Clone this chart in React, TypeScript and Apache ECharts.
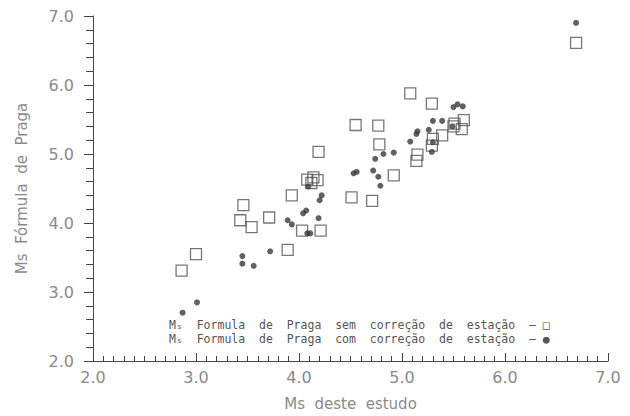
import React, { useEffect, useRef } from "react";
import * as echarts from "echarts";

const xTicks = [2, 3, 4, 5, 6, 7];
const yTicks = [2, 3, 4, 5, 6, 7];

// Ms Fórmula de Praga sem correção de estação (open squares)
const semX = [2.86, 3.0, 3.46, 3.43, 3.54, 3.71, 3.89, 3.93, 4.03, 4.21, 4.08, 4.12, 4.14, 4.18, 4.19, 4.51, 4.55, 4.71, 4.77, 4.78, 4.92, 5.08, 5.14, 5.15, 5.29, 5.29, 5.3, 5.39, 5.5, 5.51, 5.58, 5.6, 6.69];
const semY = [3.31, 3.55, 4.26, 4.04, 3.94, 4.08, 3.61, 4.4, 3.89, 3.89, 4.63, 4.58, 4.66, 4.62, 5.03, 4.37, 5.42, 4.32, 5.41, 5.14, 4.69, 5.88, 4.9, 4.99, 5.73, 5.12, 5.22, 5.27, 5.4, 5.44, 5.36, 5.49, 6.61];

// Ms Fórmula de Praga com correção de estação (filled dots)
const comX = [2.87, 3.01, 3.45, 3.45, 3.56, 3.72, 3.89, 3.93, 4.04, 4.07, 4.08, 4.11, 4.19, 4.22, 4.2, 4.09, 4.53, 4.56, 4.72, 4.74, 4.77, 4.79, 4.82, 4.92, 5.08, 5.14, 5.15, 5.26, 5.29, 5.3, 5.3, 5.39, 5.49, 5.5, 5.54, 5.59, 6.69];
const comY = [2.7, 2.85, 3.52, 3.41, 3.38, 3.59, 4.04, 3.98, 4.14, 4.18, 3.85, 3.85, 4.07, 4.4, 4.33, 4.53, 4.72, 4.74, 4.76, 4.93, 4.67, 4.54, 5.0, 5.02, 5.18, 5.29, 5.33, 5.35, 5.03, 5.17, 5.48, 5.48, 5.4, 5.68, 5.72, 5.69, 6.9];

const legendLines = [
  "Mₛ  Formula  de  Praga  sem  correção  de  estação  — □",
  "Mₛ  Formula  de  Praga  com  correção  de  estação  — ●",
];

const xName = "Ms  deste  estudo";
const yName = "Ms  Fórmula  de  Praga";

export default function App() {
  const ref = useRef<HTMLDivElement>(null);
  useEffect(() => {
    if (!ref.current) return;
    const chart = echarts.init(ref.current, null, { renderer: "svg" });
    const labelColor = "#8a8a8a";
    const axisColor = "#444";
    const font = "DejaVu Sans";
    const mono = "DejaVu Sans Mono";
    chart.setOption({
      animation: false,
      backgroundColor: "#fff",
      grid: { left: 93, right: 22, top: 16, bottom: 52, containLabel: false },
      xAxis: {
        type: "value",
        min: xTicks[0],
        max: xTicks[xTicks.length - 1],
        interval: 1,
        name: xName,
        nameLocation: "middle",
        nameGap: 35,
        nameTextStyle: { color: labelColor, fontSize: 15, fontFamily: font },
        axisLine: { show: true, lineStyle: { color: axisColor, width: 1 } },
        axisTick: { show: true, inside: true, length: 8, lineStyle: { color: axisColor } },
        minorTick: { show: true, splitNumber: 10, length: 5, lineStyle: { color: axisColor } },
        splitLine: { show: false },
        axisLabel: {
          color: labelColor,
          fontSize: 16,
          fontFamily: font,
          margin: 8,
          formatter: (v: number) => v.toFixed(1),
        },
      },
      yAxis: {
        type: "value",
        min: yTicks[0],
        max: yTicks[yTicks.length - 1],
        interval: 1,
        name: yName,
        nameLocation: "middle",
        nameGap: 64,
        nameTextStyle: { color: labelColor, fontSize: 15, fontFamily: font },
        axisLine: { show: true, lineStyle: { color: axisColor, width: 1 } },
        axisTick: { show: true, inside: false, length: 9, lineStyle: { color: axisColor } },
        minorTick: { show: true, splitNumber: 5, length: 7, lineStyle: { color: axisColor } },
        splitLine: { show: false },
        axisLabel: {
          color: labelColor,
          fontSize: 16,
          fontFamily: font,
          margin: 19,
          formatter: (v: number) => v.toFixed(1),
        },
      },
      series: [
        {
          type: "scatter",
          name: "sem correção",
          symbol: "rect",
          symbolSize: 11,
          data: semX.map((x, i) => [x, semY[i]]),
          itemStyle: { color: "rgba(255,255,255,0)", borderColor: "#555", borderWidth: 1.3 },
        },
        {
          type: "scatter",
          name: "com correção",
          symbol: "circle",
          symbolSize: 6,
          data: comX.map((x, i) => [x, comY[i]]),
          itemStyle: { color: "#3a3a3a" },
        },
      ],
      graphic: [
        {
          type: "text",
          left: 169,
          top: 319,
          style: { text: legendLines[0], fill: "#555", font: `11.5px "${mono}"` },
        },
        {
          type: "text",
          left: 169,
          top: 333,
          style: { text: legendLines[1], fill: "#555", font: `11.5px "${mono}"` },
        },
      ],
    });
    return () => chart.dispose();
  }, []);
  return (
    <div
      ref={ref}
      style={{ position: "fixed", left: 0, top: 0, width: 630, height: 416, background: "#fff" }}
    />
  );
}
